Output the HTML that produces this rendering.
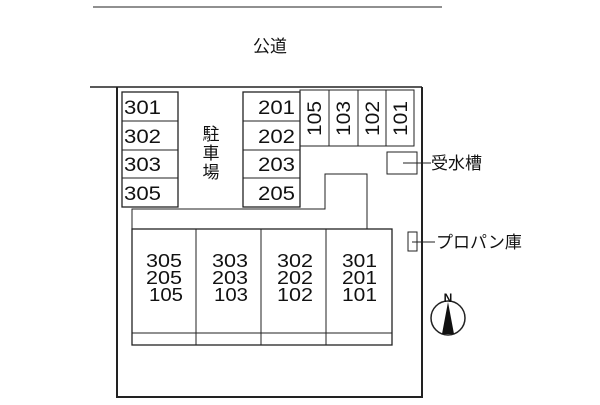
<!DOCTYPE html>
<html><head><meta charset="utf-8"><style>
body{margin:0;background:#fff;}
svg text{font-family:"Liberation Sans","Noto Sans CJK JP",sans-serif;fill:#111;}
</style></head><body>
<svg width="600" height="400" viewBox="0 0 600 400" xmlns="http://www.w3.org/2000/svg">
<g stroke="#222" fill="none">
<line x1="93" y1="7" x2="442" y2="7" stroke-width="1"/>
<line x1="90" y1="87" x2="422" y2="87" stroke-width="1.5"/>
<polyline points="117,87 117,397 422,397 422,87" stroke-width="2"/>
<rect x="122" y="92" width="56" height="115" stroke-width="1.3"/>
<line x1="122" y1="121" x2="178" y2="121"/><line x1="122" y1="150" x2="178" y2="150"/><line x1="122" y1="178" x2="178" y2="178"/>
<rect x="243" y="92" width="57" height="115" stroke-width="1.3"/>
<line x1="243" y1="121" x2="300" y2="121"/><line x1="243" y1="150" x2="300" y2="150"/><line x1="243" y1="178" x2="300" y2="178"/>
<rect x="300" y="90" width="114" height="56"/>
<line x1="329" y1="90" x2="329" y2="146"/><line x1="358" y1="90" x2="358" y2="146"/><line x1="386" y1="90" x2="386" y2="146"/>
<rect x="387" y="152" width="30" height="22"/>
<line x1="403" y1="163" x2="431" y2="163"/>
<rect x="408" y="232" width="9" height="19"/>
<line x1="412" y1="242" x2="435" y2="242"/>
<polyline points="132,229 132,209 325,209 325,174 367,174 367,229"/>
<rect x="132" y="229" width="260" height="116" stroke-width="1.3"/>
<line x1="196" y1="229" x2="196" y2="345"/><line x1="261" y1="229" x2="261" y2="345"/><line x1="326" y1="229" x2="326" y2="345"/>
<line x1="132" y1="333" x2="392" y2="333"/>
<circle cx="448" cy="318" r="17" stroke-width="1.5"/>
</g>
<polygon points="448,302 442,334 454,334" fill="#111"/>
<text x="448" y="302" font-size="12" font-weight="bold" text-anchor="middle">N</text>
<text x="270" y="52" font-size="17" text-anchor="middle">公道</text>
<g font-size="19">
<text x="124" y="114" textLength="37" lengthAdjust="spacingAndGlyphs">301</text><text x="124" y="143" textLength="37" lengthAdjust="spacingAndGlyphs">302</text><text x="124" y="171" textLength="37" lengthAdjust="spacingAndGlyphs">303</text><text x="124" y="200" textLength="37" lengthAdjust="spacingAndGlyphs">305</text>
<text x="258" y="114" textLength="37" lengthAdjust="spacingAndGlyphs">201</text><text x="258" y="143" textLength="37" lengthAdjust="spacingAndGlyphs">202</text><text x="258" y="171" textLength="37" lengthAdjust="spacingAndGlyphs">203</text><text x="258" y="200" textLength="37" lengthAdjust="spacingAndGlyphs">205</text>
<text transform="translate(321,136) rotate(-90)" textLength="35" lengthAdjust="spacingAndGlyphs">105</text>
<text transform="translate(350,136) rotate(-90)" textLength="35" lengthAdjust="spacingAndGlyphs">103</text>
<text transform="translate(379,136) rotate(-90)" textLength="35" lengthAdjust="spacingAndGlyphs">102</text>
<text transform="translate(407,136) rotate(-90)" textLength="35" lengthAdjust="spacingAndGlyphs">101</text>
</g>
<g font-size="17">
<text x="211" y="140" text-anchor="middle">駐</text><text x="211" y="159" text-anchor="middle">車</text><text x="211" y="178" text-anchor="middle">場</text>
<text x="431" y="169">受水槽</text>
<text x="436" y="248">プロパン庫</text>
</g>
<g font-size="18">
<text x="146" y="267" textLength="36" lengthAdjust="spacingAndGlyphs">305</text><text x="146" y="284" textLength="36" lengthAdjust="spacingAndGlyphs">205</text><text x="149" y="301" textLength="34" lengthAdjust="spacingAndGlyphs">105</text>
<text x="212" y="267" textLength="36" lengthAdjust="spacingAndGlyphs">303</text><text x="212" y="284" textLength="36" lengthAdjust="spacingAndGlyphs">203</text><text x="214" y="301" textLength="34" lengthAdjust="spacingAndGlyphs">103</text>
<text x="277" y="267" textLength="36" lengthAdjust="spacingAndGlyphs">302</text><text x="277" y="284" textLength="36" lengthAdjust="spacingAndGlyphs">202</text><text x="277" y="301" textLength="36" lengthAdjust="spacingAndGlyphs">102</text>
<text x="342" y="267" textLength="35" lengthAdjust="spacingAndGlyphs">301</text><text x="342" y="284" textLength="35" lengthAdjust="spacingAndGlyphs">201</text><text x="342" y="301" textLength="35" lengthAdjust="spacingAndGlyphs">101</text>
</g>
</svg>
</body></html>
